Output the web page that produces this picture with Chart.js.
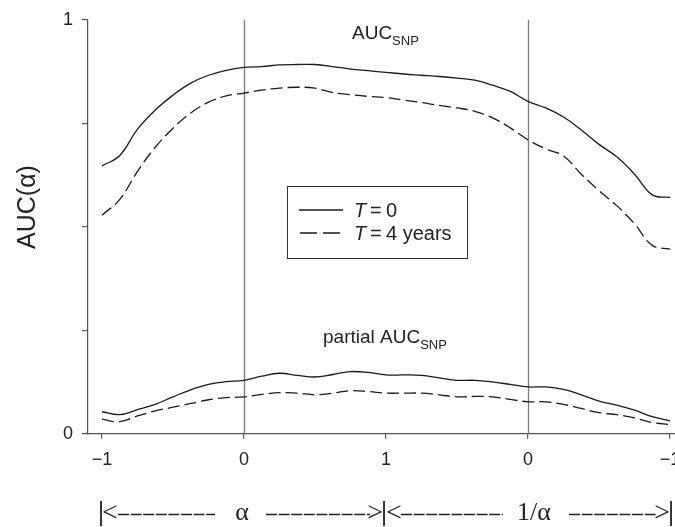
<!DOCTYPE html>
<html><head><meta charset="utf-8">
<script src="https://cdn.jsdelivr.net/npm/chart.js@4/dist/chart.umd.min.js"></script>
<style>html,body{margin:0;padding:0;background:#fff;overflow:hidden}#wrap{width:675px;height:527px}</style>
</head><body><div id="wrap"><canvas id="c" width="675" height="527"></canvas></div>
<script>
// sampling positions along the combined axis (0..2 = alpha from -1 to 1, 2..4 = 1/alpha from 1 to -1)
const xPositions = [0,0.125,0.25,0.375,0.5,0.625,0.75,0.875,1,1.125,1.25,1.375,1.5,1.625,1.75,1.875,2,2.125,2.25,2.375,2.5,2.625,2.75,2.875,3,3.125,3.25,3.375,3.5,3.625,3.75,3.875,4];
const aucT0 = [0.647,0.672,0.736,0.782,0.818,0.847,0.866,0.878,0.885,0.887,0.891,0.892,0.892,0.887,0.881,0.877,0.873,0.869,0.866,0.863,0.859,0.854,0.842,0.827,0.803,0.787,0.765,0.734,0.699,0.669,0.627,0.577,0.571];
const aucT4 = [0.528,0.566,0.634,0.692,0.738,0.775,0.801,0.816,0.823,0.830,0.835,0.837,0.835,0.824,0.819,0.815,0.812,0.806,0.800,0.793,0.787,0.779,0.763,0.739,0.710,0.688,0.671,0.627,0.587,0.551,0.507,0.455,0.446];
const partialT0 = [0.053,0.046,0.058,0.071,0.089,0.106,0.119,0.126,0.129,0.139,0.146,0.141,0.137,0.143,0.150,0.148,0.142,0.142,0.141,0.135,0.129,0.129,0.125,0.119,0.113,0.113,0.107,0.094,0.079,0.069,0.057,0.041,0.031];
const partialT4 = [0.035,0.029,0.043,0.055,0.064,0.073,0.082,0.087,0.089,0.095,0.099,0.098,0.094,0.098,0.104,0.102,0.098,0.098,0.098,0.094,0.089,0.090,0.089,0.083,0.077,0.077,0.071,0.061,0.051,0.046,0.038,0.027,0.022];
const xTickPositions = [0,1,2,3,4];
const xTickLabels = ['\u22121','0','1','0','\u22121'];
const yTickValues = [0,0.25,0.5,0.75,1];
const yTickLabels = ['0','','','','1'];
const dividerPositions = [1,3];
const legendLabels = ['0','4 years'];
const curveLabels = ['AUC','partial AUC'];

const SANS = '"Liberation Sans", Arial, Helvetica, sans-serif';
const SERIF = '"Liberation Serif", "Times New Roman", serif';
const INK = '#1a1a1a';

function pts(arr){ return xPositions.map((x,i)=>({x:x,y:arr[i]})); }

const decor = {
  id:'decor',
  beforeDatasetsDraw(chart){
    const ctx=chart.ctx, xs=chart.scales.x, a=chart.chartArea;
    ctx.save();
    ctx.strokeStyle='#7a7a7a'; ctx.lineWidth=1.3;
    dividerPositions.forEach(v=>{
      const px=Math.round(xs.getPixelForValue(v))+0.5;
      ctx.beginPath(); ctx.moveTo(px,a.top); ctx.lineTo(px,a.bottom); ctx.stroke();
    });
    ctx.restore();
  },
  afterDraw(chart){
    const ctx=chart.ctx, xs=chart.scales.x;
    ctx.save();
    ctx.fillStyle='#222';
    // y axis title
    ctx.save();
    ctx.translate(28,207); ctx.rotate(-Math.PI/2);
    ctx.font='25px '+SANS; ctx.textAlign='center'; ctx.textBaseline='middle';
    ctx.fillText('AUC(\u03b1)',0,0);
    ctx.restore();
    // curve labels
    ctx.textBaseline='alphabetic'; ctx.textAlign='left';
    ctx.font='19px '+SANS;
    ctx.fillText(curveLabels[0],352,39);
    let w=ctx.measureText(curveLabels[0]).width;
    ctx.font='13px '+SANS; ctx.fillText('SNP',352+w,45);
    ctx.font='19px '+SANS;
    ctx.fillText(curveLabels[1],323,343);
    w=ctx.measureText(curveLabels[1]).width;
    ctx.font='13px '+SANS; ctx.fillText('SNP',323+w,349);
    // legend box
    ctx.strokeStyle='#333'; ctx.lineWidth=1;
    ctx.strokeRect(287.5,186.5,180,72);
    ctx.strokeStyle=INK; ctx.lineWidth=1.3;
    const ly=[210,233];
    ctx.beginPath(); ctx.moveTo(299,ly[0]); ctx.lineTo(343,ly[0]); ctx.stroke();
    ctx.setLineDash([17,6]);
    ctx.beginPath(); ctx.moveTo(300,ly[1]); ctx.lineTo(343,ly[1]); ctx.stroke();
    ctx.setLineDash([]);
    ctx.textBaseline='middle';
    legendLabels.forEach((lab,i)=>{
      ctx.font='italic 20px '+SANS; ctx.fillText('T',354,ly[i]+1);
      ctx.font='20px '+SANS; ctx.fillText('=',370,ly[i]+1);
      ctx.fillText(lab,386,ly[i]+1);
    });
    // bottom alpha / 1-alpha annotation
    const y=513;
    const xL=xs.getPixelForValue(0), xM=xs.getPixelForValue(2), xR=xs.getPixelForValue(4);
    const c1=xs.getPixelForValue(1), c2=xs.getPixelForValue(3);
    ctx.strokeStyle='#222'; ctx.lineWidth=1.8;
    [xL-1,xM-2,xR+1].forEach(px=>{ctx.beginPath();ctx.moveTo(px,501);ctx.lineTo(px,526);ctx.stroke();});
    ctx.font='28px '+SERIF; ctx.textBaseline='middle';
    ctx.textAlign='left'; ctx.fillText('<',xL,y+1); ctx.fillText('<',xM,y+1);
    ctx.textAlign='right'; ctx.fillText('>',xM-3,y+1); ctx.fillText('>',xR,y+1);
    ctx.textAlign='center';
    ctx.font='26px '+SERIF;
    ctx.fillText('\u03b1',c1-2,y);
    ctx.fillText('1/\u03b1',c2+6,y);
    ctx.lineWidth=1.3; ctx.setLineDash([11,1.6]);
    const segs=[[xL+16,xL+113],[xL+164,xM-16],[xM+15,xM+117],[xR-101,xR-14]];
    segs.forEach(s=>{ctx.beginPath();ctx.moveTo(s[0],y+1.5);ctx.lineTo(s[1],y+1.5);ctx.stroke();});
    ctx.restore();
  }
};

const common = {pointRadius:0, borderColor:INK, borderWidth:1.3, tension:0.4, fill:false};
new Chart(document.getElementById('c'),{
  type:'line',
  data:{datasets:[
    Object.assign({label:'AUC T=0', data:pts(aucT0)},common),
    Object.assign({label:'AUC T=4', data:pts(aucT4), borderDash:[12,5]},common),
    Object.assign({label:'partial T=0', data:pts(partialT0)},common),
    Object.assign({label:'partial T=4', data:pts(partialT4), borderDash:[12,5]},common)
  ]},
  options:{
    responsive:false, animation:false, devicePixelRatio:1,
    layout:{padding:{top:16,left:0,right:0,bottom:0}},
    plugins:{legend:{display:false},tooltip:{enabled:false}},
    scales:{
      x:{type:'linear', min:-0.0986, max:4.035,
        afterBuildTicks(s){ s.ticks = xTickPositions.map(v=>({value:v})); },
        afterFit(s){ s.height=93.3; s.paddingRight=0; s.paddingLeft=0; },
        ticks:{autoSkip:false, maxRotation:0, padding:11, color:'#222', font:{family:SANS,size:18},
          callback:(v)=>{const i=xTickPositions.indexOf(v); return i>=0?xTickLabels[i]:'';}},
        grid:{drawOnChartArea:false, drawTicks:true, tickLength:5, color:'#555', lineWidth:1.2},
        border:{display:true, color:'#555', width:1.2}
      },
      y:{type:'linear', min:0, max:1,
        afterBuildTicks(s){ s.ticks = yTickValues.map(v=>({value:v})); },
        afterFit(s){ s.width=88; },
        ticks:{autoSkip:false, padding:9, color:'#222', font:{family:SANS,size:18},
          callback:(v)=>{const i=yTickValues.indexOf(v); return i>=0?yTickLabels[i]:'';}},
        grid:{drawOnChartArea:false, drawTicks:true, tickLength:6, color:'#555', lineWidth:1.2},
        border:{display:true, color:'#555', width:1.2}
      }
    }
  },
  plugins:[decor]
});
</script></body></html>
